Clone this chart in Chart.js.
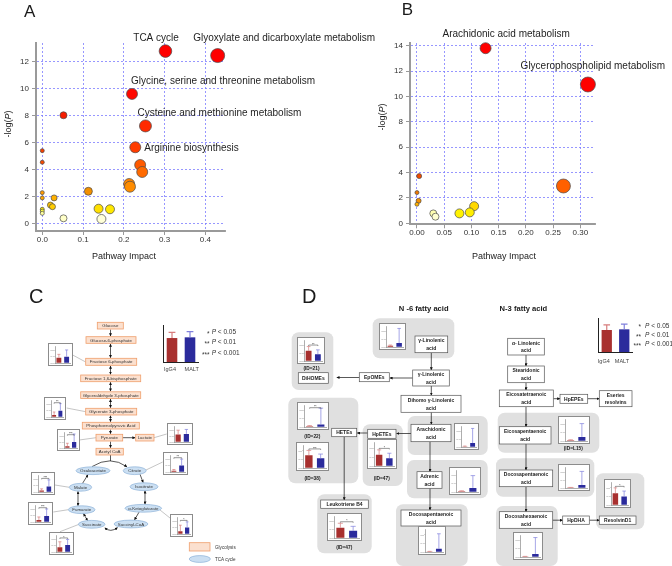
<!DOCTYPE html>
<html lang="en">
<head>
<meta charset="UTF-8">
<title>Pathway analysis</title>
<script src="https://cdn.jsdelivr.net/npm/chart.js"></script>
<style>
  html, body { margin: 0; padding: 0; background: #fff; }
  #page { position: relative; width: 672px; height: 566px; overflow: hidden; font-family: "Liberation Sans", Arial, sans-serif; }
  #page canvas { display: block; }
  .plot { position: absolute; top: 0; }
  #diagram { position: absolute; left: 0; top: 0; }
  .inset { position: absolute; box-sizing: border-box; border: 1px solid #8c8c8c; background: #fff; }
  .leg { position: absolute; }
</style>
</head>
<body>
<div id="page">
  <canvas id="chartA" class="plot" width="380" height="266" style="left:0"></canvas>
  <canvas id="chartB" class="plot" width="336" height="266" style="left:336px"></canvas>
  <svg id="diagram" width="672" height="566" font-family="Liberation Sans, Arial, sans-serif"></svg>
</div>

<script>
const FONT = '"Liberation Sans", Arial, sans-serif';

// ---------- A: metabolite pathway analysis ----------
const namesA  = ['TCA cycle', 'Glyoxylate and dicarboxylate metabolism', 'Glycine, serine and threonine metabolism', '',
                 'Cysteine and methionine metabolism', 'Arginine biosynthesis', '', '', '', '', '', '', '', '', '', '', '', '',
                 '', '', '', '', '', '', ''];
const impactA = [0.302, 0.43, 0.22, 0.052, 0.253, 0.228, 0.0, 0.0, 0.24, 0.245, 0.213, 0.215, 0.113,
                 0.0, 0.0, 0.029, 0.02, 0.025, 0.138, 0.166, 0.0, 0.0, 0.0, 0.052, 0.145];
const logPA   = [12.8, 12.47, 9.63, 8.05, 7.26, 5.68, 5.43, 4.57, 4.37, 3.85, 2.96, 2.76, 2.42,
                 2.32, 1.93, 1.93, 1.4, 1.28, 1.13, 1.09, 1.09, 0.95, 0.79, 0.42, 0.37];
const radiusA = [6.3, 7, 5.5, 3.5, 6, 5.5, 2, 2, 5.5, 5.5, 5.5, 5.5, 4, 2, 2, 3, 3, 3, 4.5, 4.5, 2, 2, 2, 3.5, 4.5];
const colorA  = ['#ff0000', '#ff0000', '#ff0800', '#f51c00', '#ff2a00', '#ff3c00', '#f64000', '#f84c00', '#ff5a00',
                 '#ff6a00', '#ff8400', '#ff8c00', '#f39000', '#ff9a00', '#ffa500', '#ffb000', '#ffc400', '#ffcc00',
                 '#ffe000', '#ffe800', '#ffee00', '#ffff40', '#ffffa0', '#ffffc8', '#ffffd8'];
const ticksXA = [0, 0.1, 0.2, 0.3, 0.4];
const ticksYA = [0, 2, 4, 6, 8, 10, 12];

// ---------- B: lipid pathway analysis ----------
const namesB  = ['Arachidonic acid metabolism', 'Glycerophospholipid metabolism', '', '', '', '', '', '', '', '', '', ''];
const impactB = [0.126, 0.314, 0.004, 0.269, 0.0, 0.003, 0.0, 0.105, 0.097, 0.078, 0.03, 0.034];
const logPB   = [13.8, 10.94, 3.72, 2.94, 2.42, 1.77, 1.5, 1.35, 0.86, 0.78, 0.78, 0.52];
const radiusB = [5.5, 7.5, 2.5, 7, 2, 2.5, 2, 4.5, 4.5, 4.5, 3.5, 3.5];
const colorB  = ['#ff0000', '#ff0000', '#f24a00', '#ff6000', '#f07800', '#f59000', '#ffb000', '#ffd800',
                 '#ffee00', '#fff200', '#ffffb0', '#ffffd0'];
const ticksXB = [0, 0.05, 0.1, 0.15, 0.2, 0.25, 0.3];
const ticksYB = [0, 2, 4, 6, 8, 10, 12, 14];

// ---------- C / D: IgG4 vs MALT bar insets (relative levels) ----------
const insetNames = ['Fructose 6-phosphate', 'Glycerate 3-phosphate', 'Pyruvate', 'Lactate', 'Citrate', 'Malate',
                    'Fumarate', 'α-Ketoglutarate', 'Succinate',
                    'γ-Linolenic acid', 'DiHOMEs (ID=21)', 'HETEs (ID=22)', 'HETEs (ID=38)', 'HpETEs (ID=47)',
                    'Leukotriene B4 (ID=47)', 'Arachidonic acid', 'Adrenic acid', 'Docosapentaenoic acid (n-6)',
                    'Eicosapentaenoic acid (ID=L15)', 'Docosapentaenoic acid (n-3)', 'Docosahexaenoic acid', 'ResolvinD1'];
const igg4Mean = [0.34, 0.12, 0.12, 0.50, 0.08, 0.10, 0.12, 0.18, 0.30, 0.06, 0.52, 0.04, 0.60, 0.50, 0.50, 0.03, 0.04, 0.02, 0.04, 0.02, 0.02, 0.55];
const maltMean = [0.40, 0.40, 0.40, 0.55, 0.42, 0.35, 0.38, 0.42, 0.45, 0.20, 0.35, 0.12, 0.45, 0.35, 0.35, 0.20, 0.20, 0.15, 0.20, 0.15, 0.15, 0.40];
const igg4Err  = [0.21, 0.20, 0.20, 0.30, 0.08, 0.10, 0.20, 0.38, 0.35, 0.04, 0.22, 0.03, 0.22, 0.22, 0.22, 0.02, 0.02, 0.01, 0.02, 0.01, 0.01, 0.25];
const maltErr  = [0.43, 0.45, 0.55, 0.30, 0.40, 0.42, 0.45, 0.35, 0.35, 0.75, 0.22, 0.80, 0.20, 0.22, 0.22, 0.75, 0.60, 0.70, 0.65, 0.70, 0.80, 0.25];
const sigMark  = ['', '**', '***', '', '**', '***', '***', '*', '*', '', '**', '**', '***', '*', '*', '', '', '', '', '', '', '*'];
const legendMean = [0.68, 0.70];
const legendErr  = [0.16, 0.16];
const groups = ['IgG4', 'MALT'];
const sigLevels = [['*', '0.05'], ['**', '0.01'], ['***', '0.001']];

const RED = '#a8302f', BLUE = '#2b2b9c', RED_E = '#d77c7c', BLUE_E = '#8080dc';

// ---------- bubble charts ----------
function bubbleChart(id, xs, ys, rs, cols, names, labelPos, o) {
  const pts = xs.map((x, i) => ({ x: x, y: ys[i], r: rs[i] }));
  const labels = {
    id: 'pointLabels',
    afterDatasetsDraw(chart) {
      const ctx = chart.ctx, meta = chart.getDatasetMeta(0);
      ctx.save();
      ctx.font = '10px ' + FONT;
      ctx.fillStyle = '#1e1e1e';
      ctx.textBaseline = 'alphabetic';
      names.forEach((n, i) => {
        if (!n) return;
        const p = labelPos[n], el = meta.data[i];
        ctx.textAlign = p[2];
        ctx.fillText(n, el.x + p[0], el.y + p[1]);
      });
      ctx.restore();
    }
  };
  return new Chart(document.getElementById(id), {
    type: 'bubble',
    data: { datasets: [{ data: pts, backgroundColor: cols, borderColor: '#4a4a4a', borderWidth: 0.7, clip: false }] },
    options: {
      responsive: false, animation: false, events: [],
      layout: { padding: o.pad },
      plugins: { legend: { display: false }, tooltip: { enabled: false } },
      scales: {
        x: {
          type: 'linear', min: o.xmin, max: o.xmax,
          afterBuildTicks: s => { s.ticks = o.xt.map(v => ({ value: v })); },
          afterFit: s => { s.height = o.xh; },
          ticks: { autoSkip: false, maxRotation: 0, padding: 0, color: '#333', font: { size: 8, family: FONT },
                   callback: v => Number(v).toFixed(o.xd) },
          grid: { color: '#7d7dff', lineWidth: 0.8, tickColor: '#999', tickLength: 4, tickWidth: 1 },
          border: { color: '#9a9a9a', width: 2, dash: [2, 2] }
        },
        y: {
          type: 'linear', min: o.ymin, max: o.ymax,
          afterBuildTicks: s => { s.ticks = o.yt.map(v => ({ value: v })); },
          afterFit: s => { s.width = o.yw; },
          ticks: { autoSkip: false, padding: 3, color: '#333', font: { size: 8, family: FONT } },
          grid: { color: '#7d7dff', lineWidth: 0.8, tickColor: '#999', tickLength: 4, tickWidth: 1 },
          border: { color: '#9a9a9a', width: 2, dash: [2, 2] }
        }
      }
    },
    plugins: [labels]
  });
}

bubbleChart('chartA', impactA, logPA, radiusA, colorA, namesA, {
  'TCA cycle': [-9.4, -10.3, 'center'],
  'Glyoxylate and dicarboxylate metabolism': [-24.4, -14.2, 'left'],
  'Glycine, serine and threonine metabolism': [-1, -10, 'left'],
  'Cysteine and methionine metabolism': [-8, -10.3, 'left'],
  'Arginine biosynthesis': [9, 3.4, 'left']
}, { pad: { top: 43, right: 155, left: 0, bottom: 0 }, xmin: -0.0154, xmax: 0.448, ymin: -0.52, ymax: 13.4,
     xt: ticksXA, yt: ticksYA, xd: 1, xh: 35, yw: 36 });

bubbleChart('chartB', impactB, logPB, radiusB, colorB, namesB, {
  'Arachidonic acid metabolism': [20.6, -11.7, 'center'],
  'Glycerophospholipid metabolism': [-67.3, -15.6, 'left']
}, { pad: { top: 43, right: 77, left: 0, bottom: 0 }, xmin: -0.0128, xmax: 0.327, ymin: -0.079, ymax: 14.21,
     xt: ticksXB, yt: ticksYB, xd: 2, xh: 41.7, yw: 74 });

// ---------- diagram layout (positions only) ----------
const glyBoxes = [
  ['Glucose', 97.3, 123.3, 322.3, 329],
  ['Glucose-6-phosphate', 86, 136, 336.7, 343.3],
  ['Fructose 6-phosphate', 85.7, 136.7, 358.3, 365.3],
  ['Fructose 1,6-bisphosphate', 80.7, 140.7, 375, 381.7],
  ['Glyceraldehyde 3-phosphate', 80.7, 140.7, 391.8, 398.5],
  ['Glycerate 3-phosphate', 85.7, 136.7, 408.3, 415],
  ['Phosphoenolpyruvic Acid', 82.3, 139.3, 422.3, 429],
  ['Pyruvate', 96, 122.7, 434.3, 441],
  ['Acetyl CoA', 96, 123.3, 448.3, 455],
  ['Lactate', 135.7, 154, 434.3, 441]
];
const tcaNodes = [
  ['Oxaloacetate', 93, 470.7, 17], ['Citrate', 134.7, 470.7, 11.5], ['Malate', 80.5, 487.3, 11.2],
  ['Isocitrate', 144, 486.7, 14], ['Fumarate', 81.7, 509.7, 13.3], ['α-Ketoglutarate', 143.3, 508.3, 18.3],
  ['Succinate', 91.7, 524.3, 13.3], ['Succinyl-CoA', 131, 524, 17]
];
const cLinks = [[72.7, 355, 85.7, 362], [66.7, 408, 85.7, 411.7], [79.3, 440, 96, 437.7], [166.7, 434, 154, 437.7],
                [162.7, 462, 146, 470], [55, 485, 69.3, 487.3], [53.3, 512, 68.3, 509.7], [170, 518, 160, 510],
                [60, 531.7, 79, 524.3]];

const dPanels = [
  [372.7, 454.3, 318.3, 358.3], [291.7, 333.3, 332.3, 390], [288.3, 358.3, 397.7, 483.3], [362.7, 402.7, 424.3, 486],
  [407.7, 487.7, 416, 455], [407, 487.7, 460, 498.3], [396, 467.7, 504.3, 566], [317.3, 371.7, 494.3, 553.3],
  [497.7, 599.3, 412.7, 452.7], [496, 594.3, 458.3, 496.7], [496, 557.7, 506, 566], [596, 644.3, 473.3, 529.3]
];
const dBoxes = [
  [['γ-Linolenic', 'acid'], 415, 447.7, 336, 352.7], [['γ-Linolenic', 'acid'], 412.7, 449.3, 370, 386],
  [['EpOMEs'], 359.3, 389.3, 372.7, 381.7], [['DiHOMEs'], 298.3, 328.3, 372.7, 383.3],
  [['Dihomo γ-Linolenic', 'acid'], 401, 461, 395.3, 412.3], [['Arachidonic', 'acid'], 411, 451, 424.3, 441.7],
  [['Adrenic', 'acid'], 417, 442, 471.7, 488.3], [['Docosapentaenoic', 'acid'], 401, 461, 510, 526],
  [['HpETEs'], 367.7, 396, 429.3, 438.3], [['HETEs'], 331.7, 356.7, 428.3, 436.7],
  [['Leukotriene B4'], 320.7, 368.3, 500, 508.3], [['α- Linolenic', 'acid'], 507.7, 544.3, 338.3, 355],
  [['Stearidonic', 'acid'], 507.7, 544.3, 366, 382.7], [['Eicosatetraenoic', 'acid'], 499.3, 553.3, 390, 406.7],
  [['HpEPEs'], 560, 587.7, 394.3, 403.3], [['Eseries', 'resolvins'], 599.3, 632, 390.7, 406.7],
  [['Eicosapentaenoic', 'acid'], 499.3, 551, 426.7, 444], [['Docosapentaenoic', 'acid'], 499.3, 552.7, 470, 486.7],
  [['Docosahexaenoic', 'acid'], 499.3, 552.7, 511.7, 528.3], [['HpDHA'], 562.7, 589.3, 516, 524.3],
  [['ResolvinD1'], 599.3, 636, 516, 524.3]
];
const dArrows = [
  [431.3, 352.7, 431.3, 370], [412.7, 378, 389.8, 378], [359.3, 377.5, 336.7, 377.5], [431.3, 386, 431.3, 395.3],
  [431.3, 412.3, 431.3, 424.3], [430, 441.7, 430, 471.7], [430, 488.3, 430, 510], [411, 433.5, 396.5, 433.5],
  [367.7, 433, 357.2, 433], [344.2, 436.7, 344.2, 500], [526, 355, 526, 366], [526, 382.7, 526, 390],
  [526, 406.7, 526, 426.7], [526, 444, 526, 470], [526, 486.7, 526, 511.7], [553.3, 398.7, 560, 398.7],
  [587.7, 398.7, 599.3, 398.7], [552.7, 520.2, 562.7, 520.2], [589.3, 520.2, 599.3, 520.2]
];
const idLabels = [['(ID=21)', 311.5, 369.6], ['(ID=22)', 312.3, 437.8], ['(ID=38)', 312.5, 479.5],
                  ['(ID=47)', 381.7, 480.1], ['(ID=47)', 344.2, 549.1], ['(ID=L15)', 573.3, 450.1]];
const insetBoxes = [
  [47.7, 72.7, 343.3, 366], [44.3, 66.7, 397.3, 420], [56.7, 79.3, 429.3, 451.7], [166.7, 192.3, 422.7, 445],
  [162.7, 187.7, 452.3, 475], [30.7, 55, 472.3, 495], [28.3, 53.3, 501.7, 525], [170, 192.7, 514, 536.7],
  [49.3, 74, 531.7, 554.3],
  [378.7, 405.3, 322.7, 350], [297.3, 325.7, 336.7, 363.3], [296.7, 328.3, 401.7, 430], [296, 329, 441.7, 471],
  [366.7, 396.7, 439.3, 469.3], [326.7, 361.7, 513.3, 541.7], [454.3, 479.3, 422.7, 449.3], [449.3, 481.7, 466.7, 495],
  [417.7, 446, 526, 555], [557.7, 589.3, 416, 444], [557.7, 589.3, 464, 490.7], [512.7, 542.7, 531.7, 560],
  [604.3, 631, 479.3, 508.3]
];

// ---------- SVG diagram ----------
const S = [];
S.push('<defs><marker id="ah" viewBox="0 0 6 6" refX="5.6" refY="3" markerWidth="3" markerHeight="3" ' +
       'markerUnits="userSpaceOnUse" orient="auto-start-reverse"><path d="M0,0L6,3L0,6z" fill="#111"/></marker></defs>');
function txt(x, y, s, size, o) {
  o = o || {};
  S.push(`<text x="${x}" y="${y}" font-size="${size}" text-anchor="${o.anchor || 'start'}"` +
         ` font-weight="${o.bold ? 'bold' : 'normal'}" fill="${o.fill || '#1a1a1a'}">${s}</text>`);
}
function lines(list, cx, cy, fs, lh, bold, fill) {
  list.forEach((l, i) => txt(cx, (cy + (i - (list.length - 1) / 2) * lh + fs * 0.36).toFixed(2), l, fs,
    { anchor: 'middle', bold: bold, fill: fill }));
}
function arrow(x1, y1, x2, y2, both, w) {
  S.push(`<line x1="${x1}" y1="${y1}" x2="${x2}" y2="${y2}" stroke="#111" stroke-width="${w || 0.7}"` +
         `${both ? ' marker-start="url(#ah)"' : ''} marker-end="url(#ah)"/>`);
}
function curve(d, both) {
  S.push(`<path d="${d}" fill="none" stroke="#111" stroke-width="0.7"${both ? ' marker-start="url(#ah)"' : ''} marker-end="url(#ah)"/>`);
}

// panel letters and axis titles for A and B
txt(24, 17, 'A', 17); txt(401.7, 15, 'B', 17); txt(29, 303.3, 'C', 20); txt(302, 303.3, 'D', 20);
S.push('<text transform="translate(10.5,124) rotate(-90)" text-anchor="middle" font-size="9" fill="#222">-log(<tspan font-style="italic">P</tspan>)</text>');
S.push('<text transform="translate(384.5,117) rotate(-90)" text-anchor="middle" font-size="9" fill="#222">-log(<tspan font-style="italic">P</tspan>)</text>');
txt(124, 258.5, 'Pathway Impact', 9, { anchor: 'middle', fill: '#222' });
txt(504, 258.5, 'Pathway Impact', 9, { anchor: 'middle', fill: '#222' });

// C: connectors, chain arrows, cycle
cLinks.forEach(l => S.push(`<line x1="${l[0]}" y1="${l[1]}" x2="${l[2]}" y2="${l[3]}" stroke="#8a8a8a" stroke-width="0.5"/>`));
for (let k = 0; k < 8; k++) {
  const a = glyBoxes[k], b = glyBoxes[k + 1];
  arrow(110.5, a[4] + 0.6, 110.5, b[3] - 0.6, k >= 1 && k <= 5);
}
arrow(122.7, 437.7, 135.2, 437.7);
S.push('<line x1="110.5" y1="455" x2="110.5" y2="461" stroke="#111" stroke-width="0.7"/>');
curve('M92,466.6 Q110.5,455 127,466.8');
arrow(140, 474.3, 143.2, 482.6);
arrow(145, 490.8, 145, 504.2, true);
arrow(139, 512.2, 134.5, 519.9);
curve('M117.5,527.6 Q110.5,533 104.8,527.8', true);
arrow(87.5, 520.6, 83.5, 513.6, true);
arrow(78, 505.7, 78, 491.4, true);
arrow(82.5, 483.4, 88, 474.6);
glyBoxes.forEach(b => {
  S.push(`<rect x="${b[1]}" y="${b[3]}" width="${(b[2] - b[1]).toFixed(1)}" height="${(b[4] - b[3]).toFixed(1)}" fill="#fbe0cf" stroke="#ef9e6c" stroke-width="0.8"/>`);
  lines([b[0]], (b[1] + b[2]) / 2, (b[3] + b[4]) / 2, 4.4, 5, false, '#333');
});
tcaNodes.forEach(n => {
  S.push(`<ellipse cx="${n[1]}" cy="${n[2]}" rx="${n[3]}" ry="3.9" fill="#cbdff2" stroke="#8db2d8" stroke-width="0.7"/>`);
  lines([n[0]], n[1], n[2], 4.4, 5, false, '#333');
});
S.push('<rect x="189.3" y="542.7" width="20.7" height="8.3" fill="#fbe0cf" stroke="#ef9e6c" stroke-width="0.8"/>');
S.push('<ellipse cx="199.8" cy="559" rx="10.6" ry="3.4" fill="#cbdff2" stroke="#8db2d8" stroke-width="0.7"/>');
txt(215, 548.5, 'Glycolysis', 4.6, { fill: '#333' });
txt(215, 560.6, 'TCA cycle', 4.6, { fill: '#333' });

// legends of C and D
[[209.5, 211.7, [334, 344, 355]], [641, 645, [327.5, 337, 346]]].forEach(g => {
  sigLevels.forEach((s, i) => {
    txt(g[0], g[2][i] + 1.5, s[0], 6.5, { anchor: 'end', fill: '#333' });
    S.push(`<text x="${g[1]}" y="${g[2][i]}" font-size="6.5" fill="#333"><tspan font-style="italic">P</tspan> &lt; ${s[1]}</text>`);
  });
});
[[170, 191.7, 370.5], [603.8, 622, 363.3]].forEach(g => {
  txt(g[0], g[2], groups[0], 5.5, { anchor: 'middle', fill: '#444' });
  txt(g[1], g[2], groups[1], 5.5, { anchor: 'middle', fill: '#444' });
});

// D
txt(423.7, 311, 'N -6 fatty acid', 7.6, { anchor: 'middle', bold: true });
txt(523.4, 311, 'N-3 fatty acid', 7.6, { anchor: 'middle', bold: true });
dPanels.forEach(p => S.push(`<rect x="${p[0]}" y="${p[2]}" width="${(p[1] - p[0]).toFixed(1)}" height="${(p[3] - p[2]).toFixed(1)}" rx="7" fill="#e0e0e0"/>`));
dArrows.forEach(a => arrow(a[0], a[1], a[2], a[3], false, 0.7));
dBoxes.forEach(b => {
  S.push(`<rect x="${b[1]}" y="${b[3]}" width="${(b[2] - b[1]).toFixed(1)}" height="${(b[4] - b[3]).toFixed(1)}" fill="#fff" stroke="#555" stroke-width="0.7"/>`);
  lines(b[0], (b[1] + b[2]) / 2, (b[3] + b[4]) / 2, 5, 7.8, true, '#222');
});
idLabels.forEach(l => txt(l[1], l[2], l[0], 4.8, { anchor: 'middle', bold: true, fill: '#222' }));

document.getElementById('diagram').innerHTML = S.join('');

// ---------- IgG4 / MALT bar insets ----------
const page = document.getElementById('page');
function barPanel(box, means, errs, mark, legend) {
  const [x1, x2, y1, y2] = box;
  const w = Math.round(x2 - x1), h = Math.round(y2 - y1);
  const holder = document.createElement('div');
  holder.className = legend ? 'leg' : 'inset';
  holder.style.cssText = `left:${x1}px;top:${y1}px;width:${w}px;height:${h}px`;
  const cv = document.createElement('canvas');
  cv.width = legend ? w : w - 2;
  cv.height = legend ? h : h - 2;
  holder.appendChild(cv);
  page.appendChild(holder);

  const errBars = {
    id: 'errBars',
    afterDatasetsDraw(chart) {
      const ctx = chart.ctx, ys = chart.scales.y, bars = chart.getDatasetMeta(0).data;
      let top = Infinity;
      ctx.save();
      bars.forEach((b, k) => {
        const yt = ys.getPixelForValue(means[k] + errs[k]);
        top = Math.min(top, yt);
        ctx.strokeStyle = k ? BLUE_E : RED_E;
        ctx.lineWidth = legend ? 1.2 : 0.7;
        ctx.beginPath();
        ctx.moveTo(b.x, b.y); ctx.lineTo(b.x, yt);
        ctx.moveTo(b.x - b.width * 0.32, yt); ctx.lineTo(b.x + b.width * 0.32, yt);
        ctx.stroke();
      });
      if (mark) {
        const yb = Math.max(chart.chartArea.top + 2.2, top - 1.5);
        ctx.strokeStyle = '#333'; ctx.lineWidth = 0.5;
        ctx.beginPath();
        ctx.moveTo(bars[0].x, yb + 1); ctx.lineTo(bars[0].x, yb); ctx.lineTo(bars[1].x, yb); ctx.lineTo(bars[1].x, yb + 1);
        ctx.stroke();
        ctx.fillStyle = '#222'; ctx.font = '3.2px ' + FONT; ctx.textAlign = 'center'; ctx.textBaseline = 'alphabetic';
        ctx.fillText(mark, (bars[0].x + bars[1].x) / 2, yb + 0.6);
      }
      ctx.restore();
    }
  };

  new Chart(cv, {
    type: 'bar',
    data: { labels: groups, datasets: [{ data: means, backgroundColor: [RED, BLUE],
            barPercentage: legend ? 0.62 : 0.7, categoryPercentage: legend ? 0.95 : 0.9 }] },
    options: {
      responsive: false, animation: false, events: [],
      layout: { padding: legend ? { top: 3, right: 0, left: 0, bottom: 0 } : { top: 2.5, right: 1.5, left: 0.5, bottom: 1 } },
      plugins: { legend: { display: false }, tooltip: { enabled: false } },
      scales: {
        x: { grid: { display: false }, ticks: { display: false },
             border: { color: legend ? '#222' : '#777', width: legend ? 1 : 0.6 },
             afterFit: s => { s.height = 1; } },
        y: { min: 0, max: 1.05,
             grid: { drawOnChartArea: false, display: !legend, tickLength: 0.8, color: '#888', lineWidth: 0.4 },
             ticks: { display: !legend, stepSize: 0.2, padding: 0.3, color: '#666', font: { size: 2.4, family: FONT },
                      callback: v => Number(v).toFixed(1) },
             border: { color: legend ? '#222' : '#777', width: legend ? 1 : 0.6 },
             afterFit: s => { s.width = legend ? 1 : 5.5; } }
      }
    },
    plugins: [errBars]
  });
}

insetBoxes.forEach((box, i) => barPanel(box, [igg4Mean[i], maltMean[i]], [igg4Err[i], maltErr[i]], sigMark[i], false));
barPanel([162.3, 199.3, 322, 362.7], legendMean, legendErr, '', true);
barPanel([596.7, 632.7, 315.3, 353.7], legendMean, legendErr, '', true);
</script>
</body>
</html>
